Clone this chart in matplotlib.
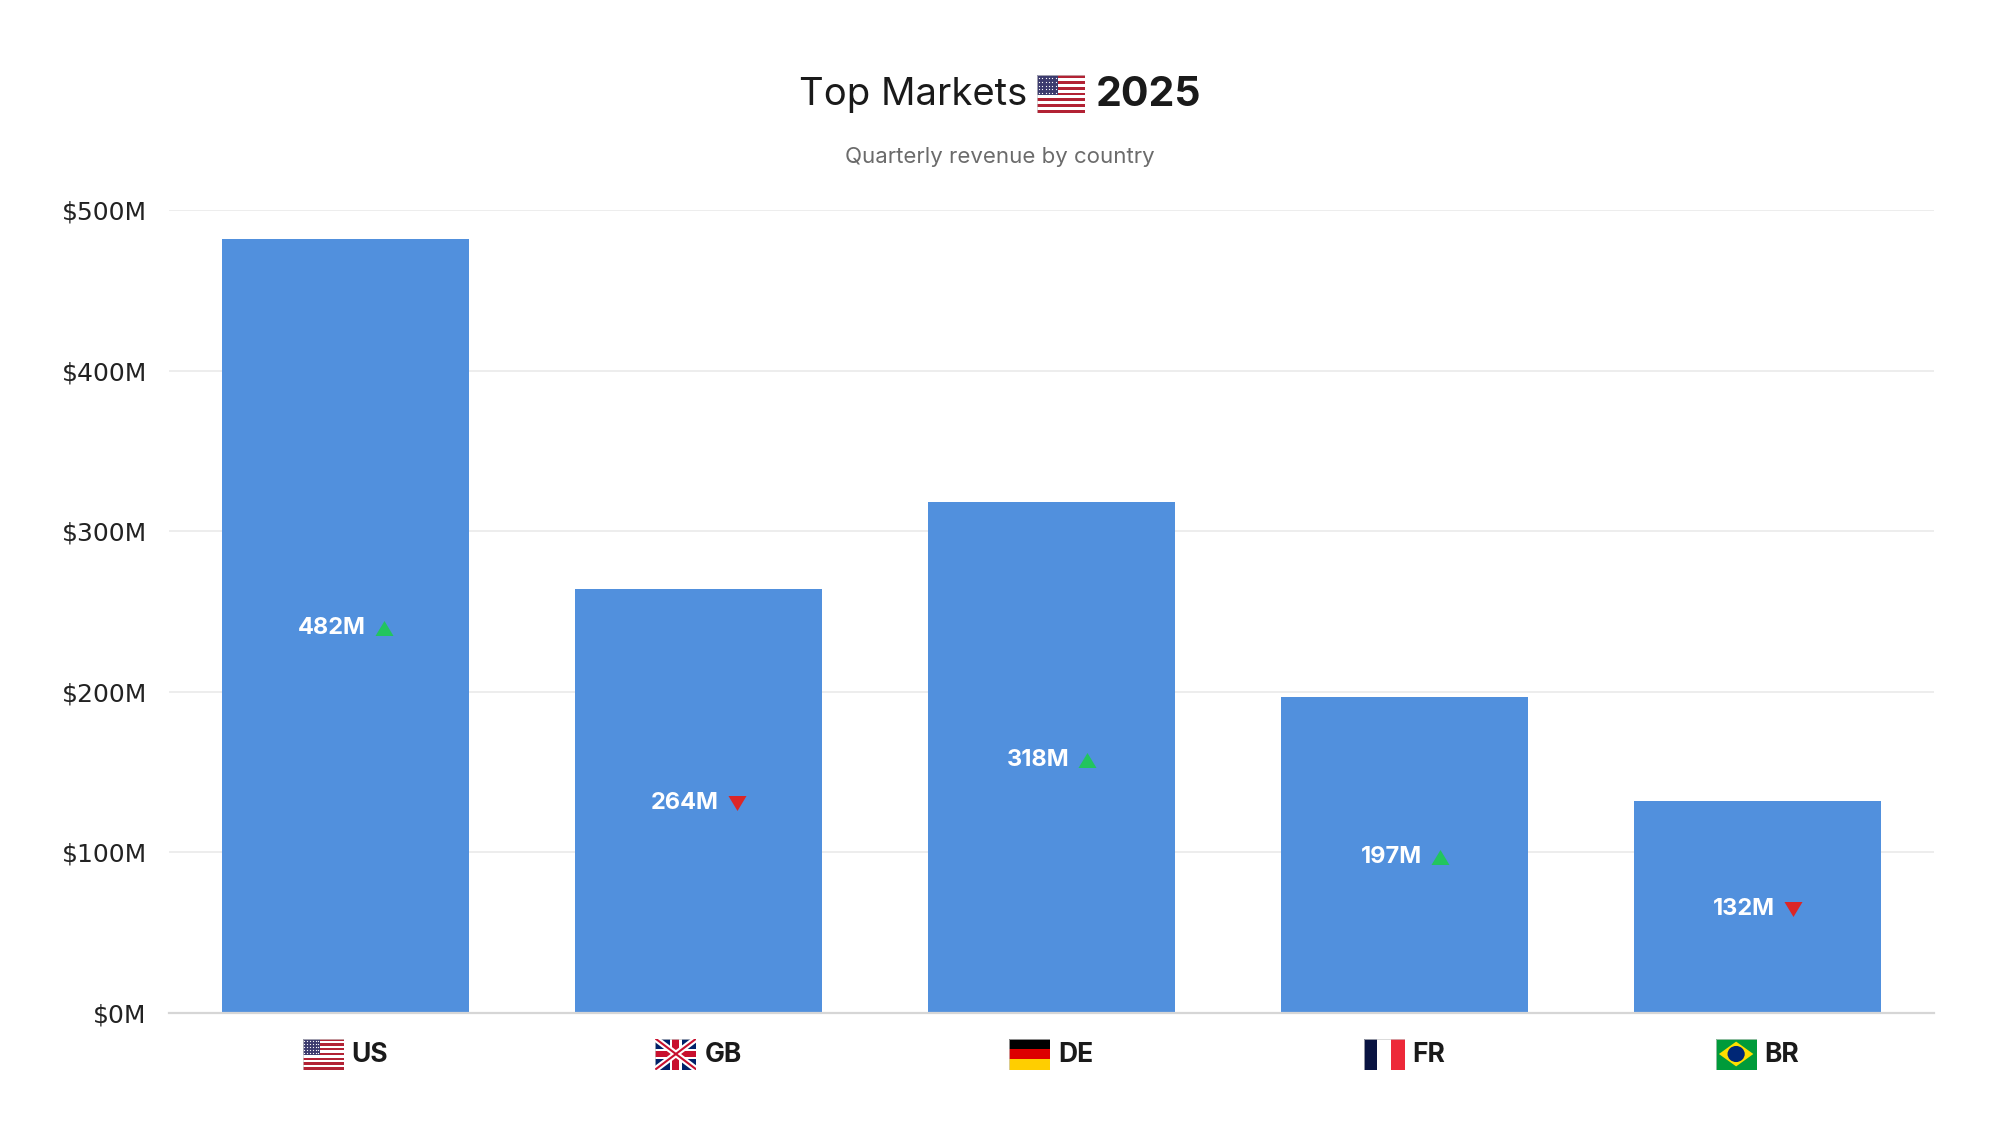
import matplotlib
matplotlib.use("Agg")
import matplotlib.pyplot as plt
from matplotlib.patches import Rectangle, Polygon, Ellipse
from matplotlib.transforms import offset_copy
import numpy as np

# ---------------- data ----------------
countries = ["US", "GB", "DE", "FR", "BR"]
revenue = [482, 264, 318, 197, 132]          # $M
trend = ["up", "down", "up", "up", "down"]
yticks = [0, 100, 200, 300, 400, 500]
title_left = "Top Markets"
title_right = "2025"
subtitle = "Quarterly revenue by country"

W, H = 2000, 1138
DPI = 100
BAR = "#5190DD"
UP = "#22C55E"
DOWN = "#DC2626"
FONT = ["Inter", "DejaVu Sans"]

fig = plt.figure(figsize=(W / DPI, H / DPI), dpi=DPI)
fig.patch.set_facecolor("white")

ax_l, ax_r, ax_t, ax_b = 169, 1934, 210, 1013
ax = fig.add_axes([ax_l / W, 1 - ax_b / H, (ax_r - ax_l) / W, (ax_b - ax_t) / H])

x = np.arange(len(countries))
ax.bar(x, revenue, width=0.7, color=BAR, zorder=2)
ax.set_xlim(-0.5, len(countries) - 0.5)
ax.set_ylim(0, 500)
ax.set_yticks(yticks)
ax.set_yticklabels([f"${v}M" for v in yticks], fontfamily="DejaVu Sans",
                   fontsize=18, color="#222222")
ax.tick_params(axis="y", length=0, pad=16)
ax.set_xticks([])
for s in ["top", "right", "left"]:
    ax.spines[s].set_visible(False)
ax.spines["bottom"].set_color("#D6D6D6")
ax.spines["bottom"].set_linewidth(1.6)
ax.spines["bottom"].set_zorder(3)
ax.yaxis.grid(True, color="#E8E8E8", linewidth=1.1, zorder=0)
ax.set_axisbelow(True)

fig.canvas.draw()
renderer = fig.canvas.get_renderer()

def px_to_fig(px, py):
    return px / W, 1 - py / H

# ---------------- flags ----------------
def flag_axes(xpx, ypx, wpx, hpx):
    fa = fig.add_axes([xpx / W, 1 - (ypx + hpx) / H, wpx / W, hpx / H])
    fa.set_xlim(0, 1)
    fa.set_ylim(0, 1)
    fa.axis("off")
    return fa

def draw_flag(code, xpx, ypx, wpx, hpx):
    fa = flag_axes(xpx, ypx, wpx, hpx)
    if code == "US":
        for i in range(13):
            c = "#B22234" if i % 2 == 0 else "white"
            fa.add_patch(Rectangle((0, 1 - (i + 1) / 13), 1, 1 / 13, color=c, lw=0))
        fa.add_patch(Rectangle((0, 6 / 13), 0.42, 7 / 13, color="#3C3B6E", lw=0))
        for r in range(5):
            for c in range(6):
                fa.plot(0.035 + c * 0.07, 6 / 13 + 0.06 + r * 0.1, "o",
                        ms=0.9, color="white", mec="none")
    elif code == "GB":
        fa.add_patch(Rectangle((0, 0), 1, 1, color="#012169", lw=0))
        fa.plot([0, 1], [0, 1], color="white", lw=4.5, solid_capstyle="butt")
        fa.plot([0, 1], [1, 0], color="white", lw=4.5, solid_capstyle="butt")
        fa.plot([0, 1], [0, 1], color="#C8102E", lw=1.5, solid_capstyle="butt")
        fa.plot([0, 1], [1, 0], color="#C8102E", lw=1.5, solid_capstyle="butt")
        fa.add_patch(Rectangle((0, 0.5 - 1 / 6), 1, 1 / 3, color="white", lw=0))
        fa.add_patch(Rectangle((0.5 - 0.14, 0), 0.28, 1, color="white", lw=0))
        fa.add_patch(Rectangle((0, 0.4), 1, 0.2, color="#C8102E", lw=0))
        fa.add_patch(Rectangle((0.5 - 0.085, 0), 0.17, 1, color="#C8102E", lw=0))
    elif code == "DE":
        fa.add_patch(Rectangle((0, 2 / 3), 1, 1 / 3, color="#000000", lw=0))
        fa.add_patch(Rectangle((0, 1 / 3), 1, 1 / 3, color="#DD0000", lw=0))
        fa.add_patch(Rectangle((0, 0), 1, 1 / 3, color="#FFCE00", lw=0))
    elif code == "FR":
        fa.add_patch(Rectangle((0, 0), 1 / 3, 1, color="#0A1442", lw=0))
        fa.add_patch(Rectangle((1 / 3, 0), 1 / 3, 1, color="white", lw=0))
        fa.add_patch(Rectangle((2 / 3, 0), 1 / 3, 1, color="#ED2939", lw=0))
    elif code == "BR":
        fa.add_patch(Rectangle((0, 0), 1, 1, color="#009B3A", lw=0))
        fa.add_patch(Polygon([[0.08, 0.5], [0.5, 0.9], [0.92, 0.5], [0.5, 0.1]],
                             closed=True, color="#FEDF00", lw=0))
        fa.add_patch(Ellipse((0.5, 0.5), 0.42, 0.52, color="#002776", lw=0))
    fa.add_patch(Rectangle((0, 0), 1, 1, fill=False, edgecolor="#CCCCCC", lw=0.5))

# ---------------- title ----------------
t1 = fig.text(0, 0, title_left, fontsize=27.5, fontfamily=FONT,
              color="#1A1A1A", va="center", ha="left")
t2 = fig.text(0, 0, title_right, fontsize=29.5, fontfamily=FONT,
              fontweight="bold", color="#1A1A1A", va="center", ha="left")
w1 = t1.get_window_extent(renderer).width
w2 = t2.get_window_extent(renderer).width
fw, fh, gap = 48, 38, 10
total = w1 + gap + fw + gap + w2
x0 = W / 2 - total / 2
ty = 95
t1.set_position(px_to_fig(x0, ty))
draw_flag("US", x0 + w1 + gap, ty - fh / 2 - 1, fw, fh)
t2.set_position(px_to_fig(x0 + w1 + gap + fw + gap, ty))

fig.text(0.5, 1 - 157 / H, subtitle, fontsize=16, fontfamily=FONT,
         color="#6B6B6B", ha="center", va="center")

# ---------------- bar labels ----------------
up_marker = [(-1, -0.83), (1, -0.83), (0, 0.83)]
down_marker = [(-1, 0.83), (1, 0.83), (0, -0.83)]
for i, (v, tr) in enumerate(zip(revenue, trend)):
    t = ax.text(i, v / 2, f"{v}M", fontsize=17, fontweight="bold",
                fontfamily=FONT, color="white", ha="left", va="center", zorder=4)
    tw = t.get_window_extent(renderer).width
    tri_w, tri_gap = 18, 9
    grp = tw + tri_gap + tri_w
    t.set_transform(offset_copy(ax.transData, fig=fig, x=-grp / 2, y=-2, units="dots"))
    tri_tr = offset_copy(ax.transData, fig=fig, x=-grp / 2 + tw + tri_gap + tri_w / 2,
                         y=-2, units="dots")
    ax.plot([i], [v / 2], marker=up_marker if tr == "up" else down_marker, ms=13,
            color=UP if tr == "up" else DOWN, mec="none", transform=tri_tr,
            zorder=5, clip_on=False)

# ---------------- x labels with flags ----------------
lab_y = 1054
for i, c in enumerate(countries):
    cx = ax.transData.transform((i, 0))[0]
    t = fig.text(0, 0, c, fontsize=19, fontweight="bold", fontfamily=FONT,
                 color="#1A1A1A", ha="left", va="center")
    tw = t.get_window_extent(renderer).width
    fw2, fh2, g2 = 41, 31, 8
    grp = fw2 + g2 + tw
    sx = cx - grp / 2
    draw_flag(c, sx, lab_y - fh2 / 2, fw2, fh2)
    t.set_position(px_to_fig(sx + fw2 + g2, lab_y + 1))

fig.savefig("out.png", dpi=DPI, facecolor="white")
